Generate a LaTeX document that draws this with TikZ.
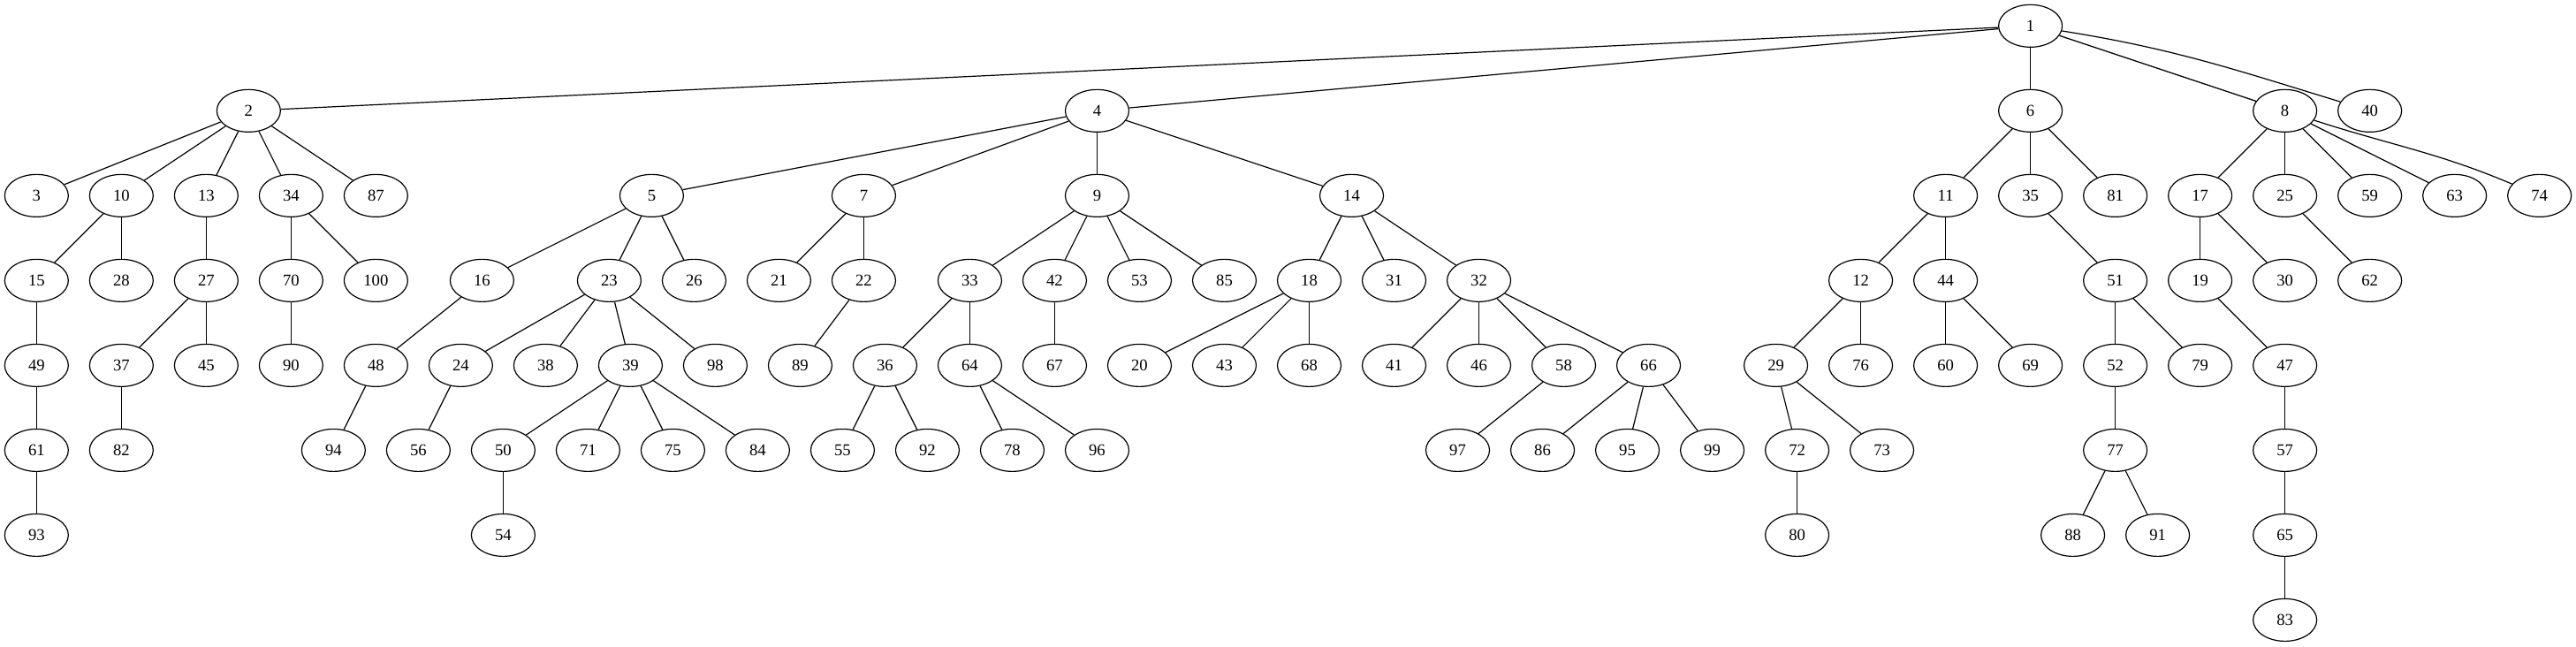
\documentclass[tikz,border=0pt]{standalone}
\usepackage{fontspec}
\setmainfont{Liberation Serif}
\usetikzlibrary{shapes.geometric}

\tikzset{
  vertex/.style={ellipse, draw, line width=0.9pt, minimum width=54pt, minimum height=36pt,
    inner sep=0pt, font=\fontsize{14pt}{16pt}\selectfont},
  link/.style={line width=0.9pt}
}

\begin{document}
\begin{tikzpicture}[x=72pt,y=72pt]
  \useasboundingbox (-31pt,22pt) rectangle (2155pt,-526.25pt);

  % Nodes, one row at a time (name/column)
  \foreach \n/\k in {1/23.5}
    \node[vertex] (n\n) at (\k,0) {\n};
  \foreach \n/\k in {2/2.5,4/12.5,6/23.5,8/26.5,40/27.5}
    \node[vertex] (n\n) at (\k,-1) {\n};
  \foreach \n/\k in {3/0,10/1,13/2,34/3,87/4,5/7.25,7/9.75,9/12.5,14/15.5,11/22.5,35/23.5,81/24.5,17/25.5,25/26.5,59/27.5,63/28.5,74/29.5}
    \node[vertex] (n\n) at (\k,-2) {\n};
  \foreach \n/\k in {15/0,28/1,27/2,70/3,100/4,16/5.25,23/6.75,26/7.75,21/8.75,22/9.75,33/11,42/12,53/13,85/14,18/15,31/16,32/17,12/21.5,44/22.5,51/24.5,19/25.5,30/26.5,62/27.5}
    \node[vertex] (n\n) at (\k,-3) {\n};
  \foreach \n/\k in {49/0,37/1,45/2,90/3,48/4,24/5,38/6,39/7,98/8,89/9,36/10,64/11,67/12,20/13,43/14,68/15,41/16,46/17,58/18,66/19,29/20.5,76/21.5,60/22.5,69/23.5,52/24.5,79/25.5,47/26.5}
    \node[vertex] (n\n) at (\k,-4) {\n};
  \foreach \n/\k in {61/0,82/1,94/3.5,56/4.5,50/5.5,71/6.5,75/7.5,84/8.5,55/9.5,92/10.5,78/11.5,96/12.5,97/16.75,86/17.75,95/18.75,99/19.75,72/20.75,73/21.75,77/24.5,57/26.5}
    \node[vertex] (n\n) at (\k,-5) {\n};
  \foreach \n/\k in {93/0,54/5.5,80/20.75,88/24,91/25,65/26.5}
    \node[vertex] (n\n) at (\k,-6) {\n};
  \foreach \n/\k in {83/26.5}
    \node[vertex] (n\n) at (\k,-7) {\n};

  % Edges (parent/child)
  \foreach \a/\b in {1/2,1/4,1/6,1/8,
      2/3,2/10,2/13,2/34,2/87,4/5,4/7,4/9,4/14,6/11,6/35,6/81,8/17,8/25,8/59,8/63,
      10/15,10/28,13/27,34/70,34/100,5/16,5/23,5/26,7/21,7/22,9/33,9/42,9/53,9/85,
      14/18,14/31,14/32,11/12,11/44,35/51,17/19,17/30,25/62,
      15/49,27/37,27/45,70/90,16/48,23/24,23/38,23/39,23/98,22/89,33/36,33/64,42/67,
      18/20,18/43,18/68,32/41,32/46,32/58,32/66,12/29,12/76,44/60,44/69,51/52,51/79,19/47,
      49/61,37/82,48/94,24/56,39/50,39/71,39/75,39/84,36/55,36/92,64/78,64/96,58/97,
      66/86,66/95,66/99,29/72,29/73,52/77,47/57,
      61/93,50/54,72/80,77/88,77/91,57/65,65/83}
    \draw[link] (n\a) -- (n\b);

  % Curved edges
  \draw[link] (n1) to[out=-9,in=163] (n40);
  \draw[link] (n8) to[out=-18,in=157] (n74);
\end{tikzpicture}
\end{document}
